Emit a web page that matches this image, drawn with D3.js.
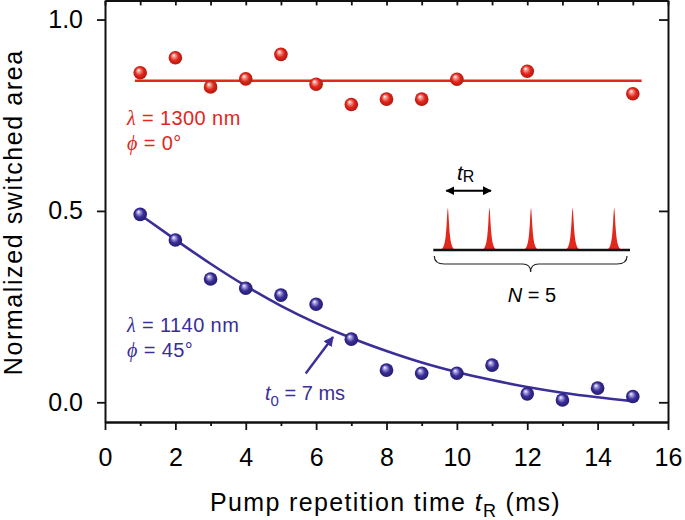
<!DOCTYPE html>
<html><head><meta charset="utf-8">
<script src="https://cdn.jsdelivr.net/npm/d3@7"></script>
<style>
html,body{margin:0;padding:0;background:#fff;}
svg{display:block;font-family:"Liberation Sans",Arial,sans-serif;}
</style></head>
<body>
<svg id="chart" width="685" height="520"></svg>
<script>
// ---- data ----
const xMajorTicks = [0, 2, 4, 6, 8, 10, 12, 14, 16];
const xMinorTicks = [1, 3, 5, 7, 9, 11, 13, 15];
const yTicks = [0.0, 0.5, 1.0];

const redX = [1, 2, 3, 4, 5, 6, 7, 8, 9, 10, 12, 15];
const redY = [0.861, 0.900, 0.824, 0.845, 0.909, 0.831, 0.778, 0.792, 0.792, 0.844, 0.865, 0.806];
const redFitX = [0.85, 15.25];
const redFitY = [0.840, 0.840];

const blueX = [1, 2, 3, 4, 5, 6, 7, 8, 9, 10, 11, 12, 13, 14, 15];
const blueY = [0.491, 0.424, 0.322, 0.298, 0.280, 0.256, 0.165, 0.084, 0.076, 0.076, 0.097, 0.022, 0.006, 0.037, 0.015];
const blueFitX = [1, 2, 3, 4, 5, 6, 7, 8, 9, 10, 11, 12, 13, 14, 15];
const blueFitY = [0.490, 0.425, 0.362, 0.304, 0.252, 0.207, 0.168, 0.134, 0.104, 0.079, 0.058, 0.040, 0.025, 0.013, 0.003];

// inset illustration: pulse train
const pulseIdx = [1, 2, 3, 4, 5];
const pulseProfileDx = [-0.17, -0.12, -0.08, -0.05, -0.025, 0, 0.025, 0.05, 0.08, 0.12, 0.17];
const pulseProfileH  = [0, 0.04, 0.12, 0.28, 0.55, 1, 0.55, 0.28, 0.12, 0.04, 0];

const red = "#e2271c", redDark = "#a9140c", redLight = "#f7a79f";
const blue = "#3a2e97", blueDark = "#1f1766", blueLight = "#b2abe6";

// ---- scales ----
const svg = d3.select("#chart");
const x = d3.scaleLinear().domain([0, 16]).range([105, 668]);
const y = d3.scaleLinear().domain([-0.0515, 1.05]).range([422, 0.4]);

// gradients
const defs = svg.append("defs");
function grad(id, light, base, dark) {
  const g = defs.append("radialGradient").attr("id", id)
    .attr("cx", "50%").attr("cy", "50%").attr("r", "55%")
    .attr("fx", "36%").attr("fy", "30%");
  g.append("stop").attr("offset", "0%").attr("stop-color", "#ffffff");
  g.append("stop").attr("offset", "18%").attr("stop-color", light);
  g.append("stop").attr("offset", "55%").attr("stop-color", base);
  g.append("stop").attr("offset", "100%").attr("stop-color", dark);
}
grad("gRed", redLight, red, redDark);
grad("gBlue", blueLight, blue, blueDark);
defs.append("marker").attr("id", "arrBlue").attr("viewBox", "0 0 10 10")
  .attr("refX", 9).attr("refY", 5).attr("markerWidth", 4.2).attr("markerHeight", 4.2)
  .attr("markerUnits", "strokeWidth").attr("orient", "auto")
  .append("path").attr("d", "M0,0 L10,5 L0,10 Z").attr("fill", blue);
defs.append("marker").attr("id", "arrBlack").attr("viewBox", "0 0 10 10")
  .attr("refX", 9).attr("refY", 5).attr("markerWidth", 4.5).attr("markerHeight", 4.5)
  .attr("markerUnits", "strokeWidth").attr("orient", "auto-start-reverse")
  .append("path").attr("d", "M0,0 L10,5 L0,10 Z").attr("fill", "#000");

// ---- axes ----
const axisStyle = g => {
  g.selectAll(".domain").attr("stroke", "#111").attr("stroke-width", 2);
  g.selectAll(".tick line").attr("stroke", "#111").attr("stroke-width", 1.8);
  g.selectAll(".tick text").attr("fill", "#000").attr("font-size", 25)
    .attr("font-family", "Liberation Sans, Arial, sans-serif");
};
svg.append("g").attr("transform", `translate(0,${y.range()[0]})`)
  .call(d3.axisBottom(x).tickValues(xMinorTicks).tickSize(4).tickSizeOuter(0).tickFormat(""))
  .call(axisStyle);
svg.append("g").attr("transform", `translate(0,${y.range()[0]})`)
  .call(d3.axisBottom(x).tickValues(xMajorTicks).tickSize(8).tickSizeOuter(0).tickPadding(18).tickFormat(d3.format("d")))
  .call(axisStyle);
svg.append("g").attr("transform", `translate(0,${y.range()[1]})`)
  .call(d3.axisTop(x).tickValues(xMajorTicks.concat(xMinorTicks)).tickSize(-5).tickSizeOuter(0).tickFormat(""))
  .call(axisStyle);
svg.append("g").attr("transform", `translate(${x.range()[0]},0)`)
  .call(d3.axisLeft(y).tickValues(yTicks).tickSize(8).tickSizeOuter(0).tickPadding(14).tickFormat(d3.format(".1f")))
  .call(axisStyle);
svg.append("g").attr("transform", `translate(${x.range()[1]},0)`)
  .call(d3.axisRight(y).tickValues(yTicks).tickSize(-9).tickSizeOuter(0).tickFormat(""))
  .call(axisStyle);

// axis titles
svg.append("text").attr("transform", `translate(22,${(y.range()[0] + y.range()[1]) / 2 + 1}) rotate(-90)`)
  .attr("text-anchor", "middle").attr("font-size", 25).attr("letter-spacing", 1.6).attr("fill", "#000")
  .text("Normalized switched area");
const xl = svg.append("text").attr("x", (x.range()[0] + x.range()[1]) / 2 - 1).attr("y", 510.5)
  .attr("text-anchor", "middle").attr("font-size", 25).attr("letter-spacing", 1.35).attr("fill", "#000");
xl.append("tspan").text("Pump repetition time ");
xl.append("tspan").attr("font-style", "italic").text("t");
xl.append("tspan").attr("font-size", 18).attr("dy", 6).text("R");
xl.append("tspan").attr("dy", -6).text(" (ms)");

// ---- fits ----
const line = d3.line().x(d => x(d[0])).y(d => y(d[1]));
svg.append("path").datum(d3.zip(redFitX, redFitY)).attr("d", line)
  .attr("fill", "none").attr("stroke", red).attr("stroke-width", 2.6);
svg.append("path").datum(d3.zip(blueFitX, blueFitY)).attr("d", line.curve(d3.curveMonotoneX))
  .attr("fill", "none").attr("stroke", blue).attr("stroke-width", 2.6);

// ---- points ----
svg.append("g").selectAll("circle").data(d3.zip(redX, redY)).join("circle")
  .attr("cx", d => x(d[0])).attr("cy", d => y(d[1])).attr("r", 6.8).attr("fill", "url(#gRed)");
svg.append("g").selectAll("circle").data(d3.zip(blueX, blueY)).join("circle")
  .attr("cx", d => x(d[0])).attr("cy", d => y(d[1])).attr("r", 6.8).attr("fill", "url(#gBlue)");

// ---- annotations ----
function legend(color, yBase, lam, phi) {
  const t1 = svg.append("text").attr("x", 127).attr("y", yBase).attr("font-size", 20)
    .attr("letter-spacing", 0.4).attr("fill", color);
  t1.append("tspan").attr("font-family", "Liberation Serif, serif").attr("font-style", "italic").text("λ");
  t1.append("tspan").text(" = " + lam + " nm");
  const t2 = svg.append("text").attr("x", 127).attr("y", yBase + 25).attr("font-size", 20)
    .attr("letter-spacing", 0.4).attr("fill", color);
  t2.append("tspan").attr("font-family", "Liberation Serif, serif").attr("font-style", "italic").text("ϕ");
  t2.append("tspan").text(" = " + phi + "°");
}
legend(red, 125, "1300", "0");
legend(blue, 332, "1140", "45");

const t0 = svg.append("text").attr("x", 265).attr("y", 400).attr("font-size", 20).attr("fill", blue);
t0.append("tspan").attr("font-style", "italic").text("t");
t0.append("tspan").attr("font-size", 15).attr("dy", 6).text("0");
t0.append("tspan").attr("dy", -6).text(" = 7 ms");
svg.append("line").attr("x1", 305.7).attr("y1", 373.5).attr("x2", 333).attr("y2", 337)
  .attr("stroke", blue).attr("stroke-width", 2.4).attr("marker-end", "url(#arrBlue)");

// ---- inset ----
const ix = d3.scaleLinear().domain([0.65, 5.38]).range([433.3, 630]);
const iy = d3.scaleLinear().domain([0, 1]).range([250, 201]);
const pulseLine = d3.line().x(d => d[0]).y(d => d[1]).curve(d3.curveBasis);
svg.append("g").selectAll("path").data(pulseIdx).join("path")
  .attr("d", p => pulseLine(pulseProfileDx.map((dx, i) => [ix(p + dx), iy(pulseProfileH[i])])) + "Z")
  .attr("fill", red);
svg.append("line").attr("x1", ix.range()[0]).attr("x2", ix.range()[1]).attr("y1", 250).attr("y2", 250)
  .attr("stroke", "#111").attr("stroke-width", 2.5);
svg.append("line").attr("x1", ix(1) - 1.5).attr("x2", ix(2) + 1.5).attr("y1", 190.7).attr("y2", 190.7)
  .attr("stroke", "#000").attr("stroke-width", 2)
  .attr("marker-start", "url(#arrBlack)").attr("marker-end", "url(#arrBlack)");
const tr = svg.append("text").attr("x", 457).attr("y", 180).attr("font-size", 21).attr("fill", "#000");
tr.append("tspan").attr("font-style", "italic").text("t");
tr.append("tspan").attr("font-size", 16).attr("dy", 2).text("R");
// brace
const bx0 = ix.range()[0] + 1, bx1 = ix.range()[1] - 3, bm = (bx0 + bx1) / 2, by = 256, bh = 8;
svg.append("path")
  .attr("d", `M${bx0},${by} Q${bx0},${by + bh} ${bx0 + 10},${by + bh} L${bm - 8},${by + bh} Q${bm},${by + bh} ${bm},${by + 2 * bh} Q${bm},${by + bh} ${bm + 8},${by + bh} L${bx1 - 10},${by + bh} Q${bx1},${by + bh} ${bx1},${by}`)
  .attr("fill", "none").attr("stroke", "#222").attr("stroke-width", 1.2);
const nt = svg.append("text").attr("x", 532).attr("y", 301.5).attr("text-anchor", "middle")
  .attr("font-size", 20).attr("fill", "#000");
nt.append("tspan").attr("font-style", "italic").text("N");
nt.append("tspan").text(" = 5");
</script>
</body></html>
